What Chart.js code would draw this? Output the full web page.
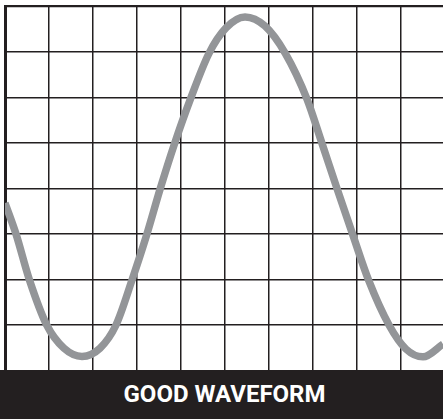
<!DOCTYPE html>
<html>
<head>
<meta charset="utf-8">
<script src="https://cdn.jsdelivr.net/npm/chart.js@4/dist/chart.umd.min.js"></script>
<style>
  html, body { margin: 0; padding: 0; background: #ffffff; width: 443px; height: 419px; overflow: hidden; }
  #wrap { position: relative; width: 443px; height: 419px; overflow: hidden; }
  #c { position: absolute; left: 0; top: 0; }
  #bar {
    position: absolute; left: 0; top: 370px; width: 443px; height: 49px;
    background: #231f20; color: #ffffff;
    font-family: Roboto, "Liberation Sans", sans-serif; font-weight: 700; font-size: 24px;
    line-height: 49px; text-align: center; box-sizing: border-box; padding-left: 6px;
  }
</style>
</head>
<body>
<div id="wrap">
  <canvas id="c" width="450" height="419"></canvas>
  <div id="bar">GOOD WAVEFORM</div>
</div>
<script>
// Values (x in grid divisions from the left, y in grid divisions from the bottom)
const waveX = [0, 0.25, 0.552, 0.948, 1.341, 1.75, 2.159, 2.523, 2.880, 3.220, 3.523, 3.852, 4.220, 4.636, 5.023, 5.455, 5.909, 6.370, 6.857, 7.205, 7.552, 7.902, 8.261, 8.727, 9.114, 9.5, 9.955];
const waveY = [3.68, 3.00, 2.00, 1.00, 0.49, 0.31, 0.49, 1.00, 1.97, 2.98, 3.98, 4.98, 5.98, 6.97, 7.53, 7.77, 7.57, 6.97, 5.98, 4.99, 3.98, 2.99, 1.99, 1.00, 0.47, 0.30, 0.58];
const xDivisions = 10;
const yDivisions = 8;
const caption = "GOOD WAVEFORM";

document.getElementById('bar').textContent = caption;

const points = waveX.map((x, i) => ({ x: x, y: waveY[i] }));
const gridColor = '#231f20';

new Chart(document.getElementById('c'), {
  type: 'line',
  data: {
    datasets: [{
      data: points,
      borderColor: '#939598',
      borderWidth: 7.5,
      pointRadius: 0,
      fill: false,
      cubicInterpolationMode: 'monotone',
      borderCapStyle: 'butt'
    }]
  },
  options: {
    responsive: false,
    animation: false,
    events: [],
    layout: { padding: { left: 5, top: 6.5, right: 5, bottom: 48.5 } },
    plugins: { legend: { display: false }, tooltip: { enabled: false }, title: { display: false } },
    scales: {
      x: {
        type: 'linear', min: 0, max: xDivisions,
        ticks: { display: false, stepSize: 1 },
        grid: { color: gridColor, lineWidth: 1.5, drawTicks: false },
        border: { display: false }
      },
      y: {
        type: 'linear', min: 0, max: yDivisions,
        ticks: { display: false, stepSize: 1 },
        grid: {
          color: gridColor, drawTicks: false,
          lineWidth: (ctx) => (ctx.tick && ctx.tick.value === yDivisions ? 2.2 : 1.5)
        },
        border: { display: true, color: gridColor, width: 3 }
      }
    }
  }
});
</script>
</body>
</html>
